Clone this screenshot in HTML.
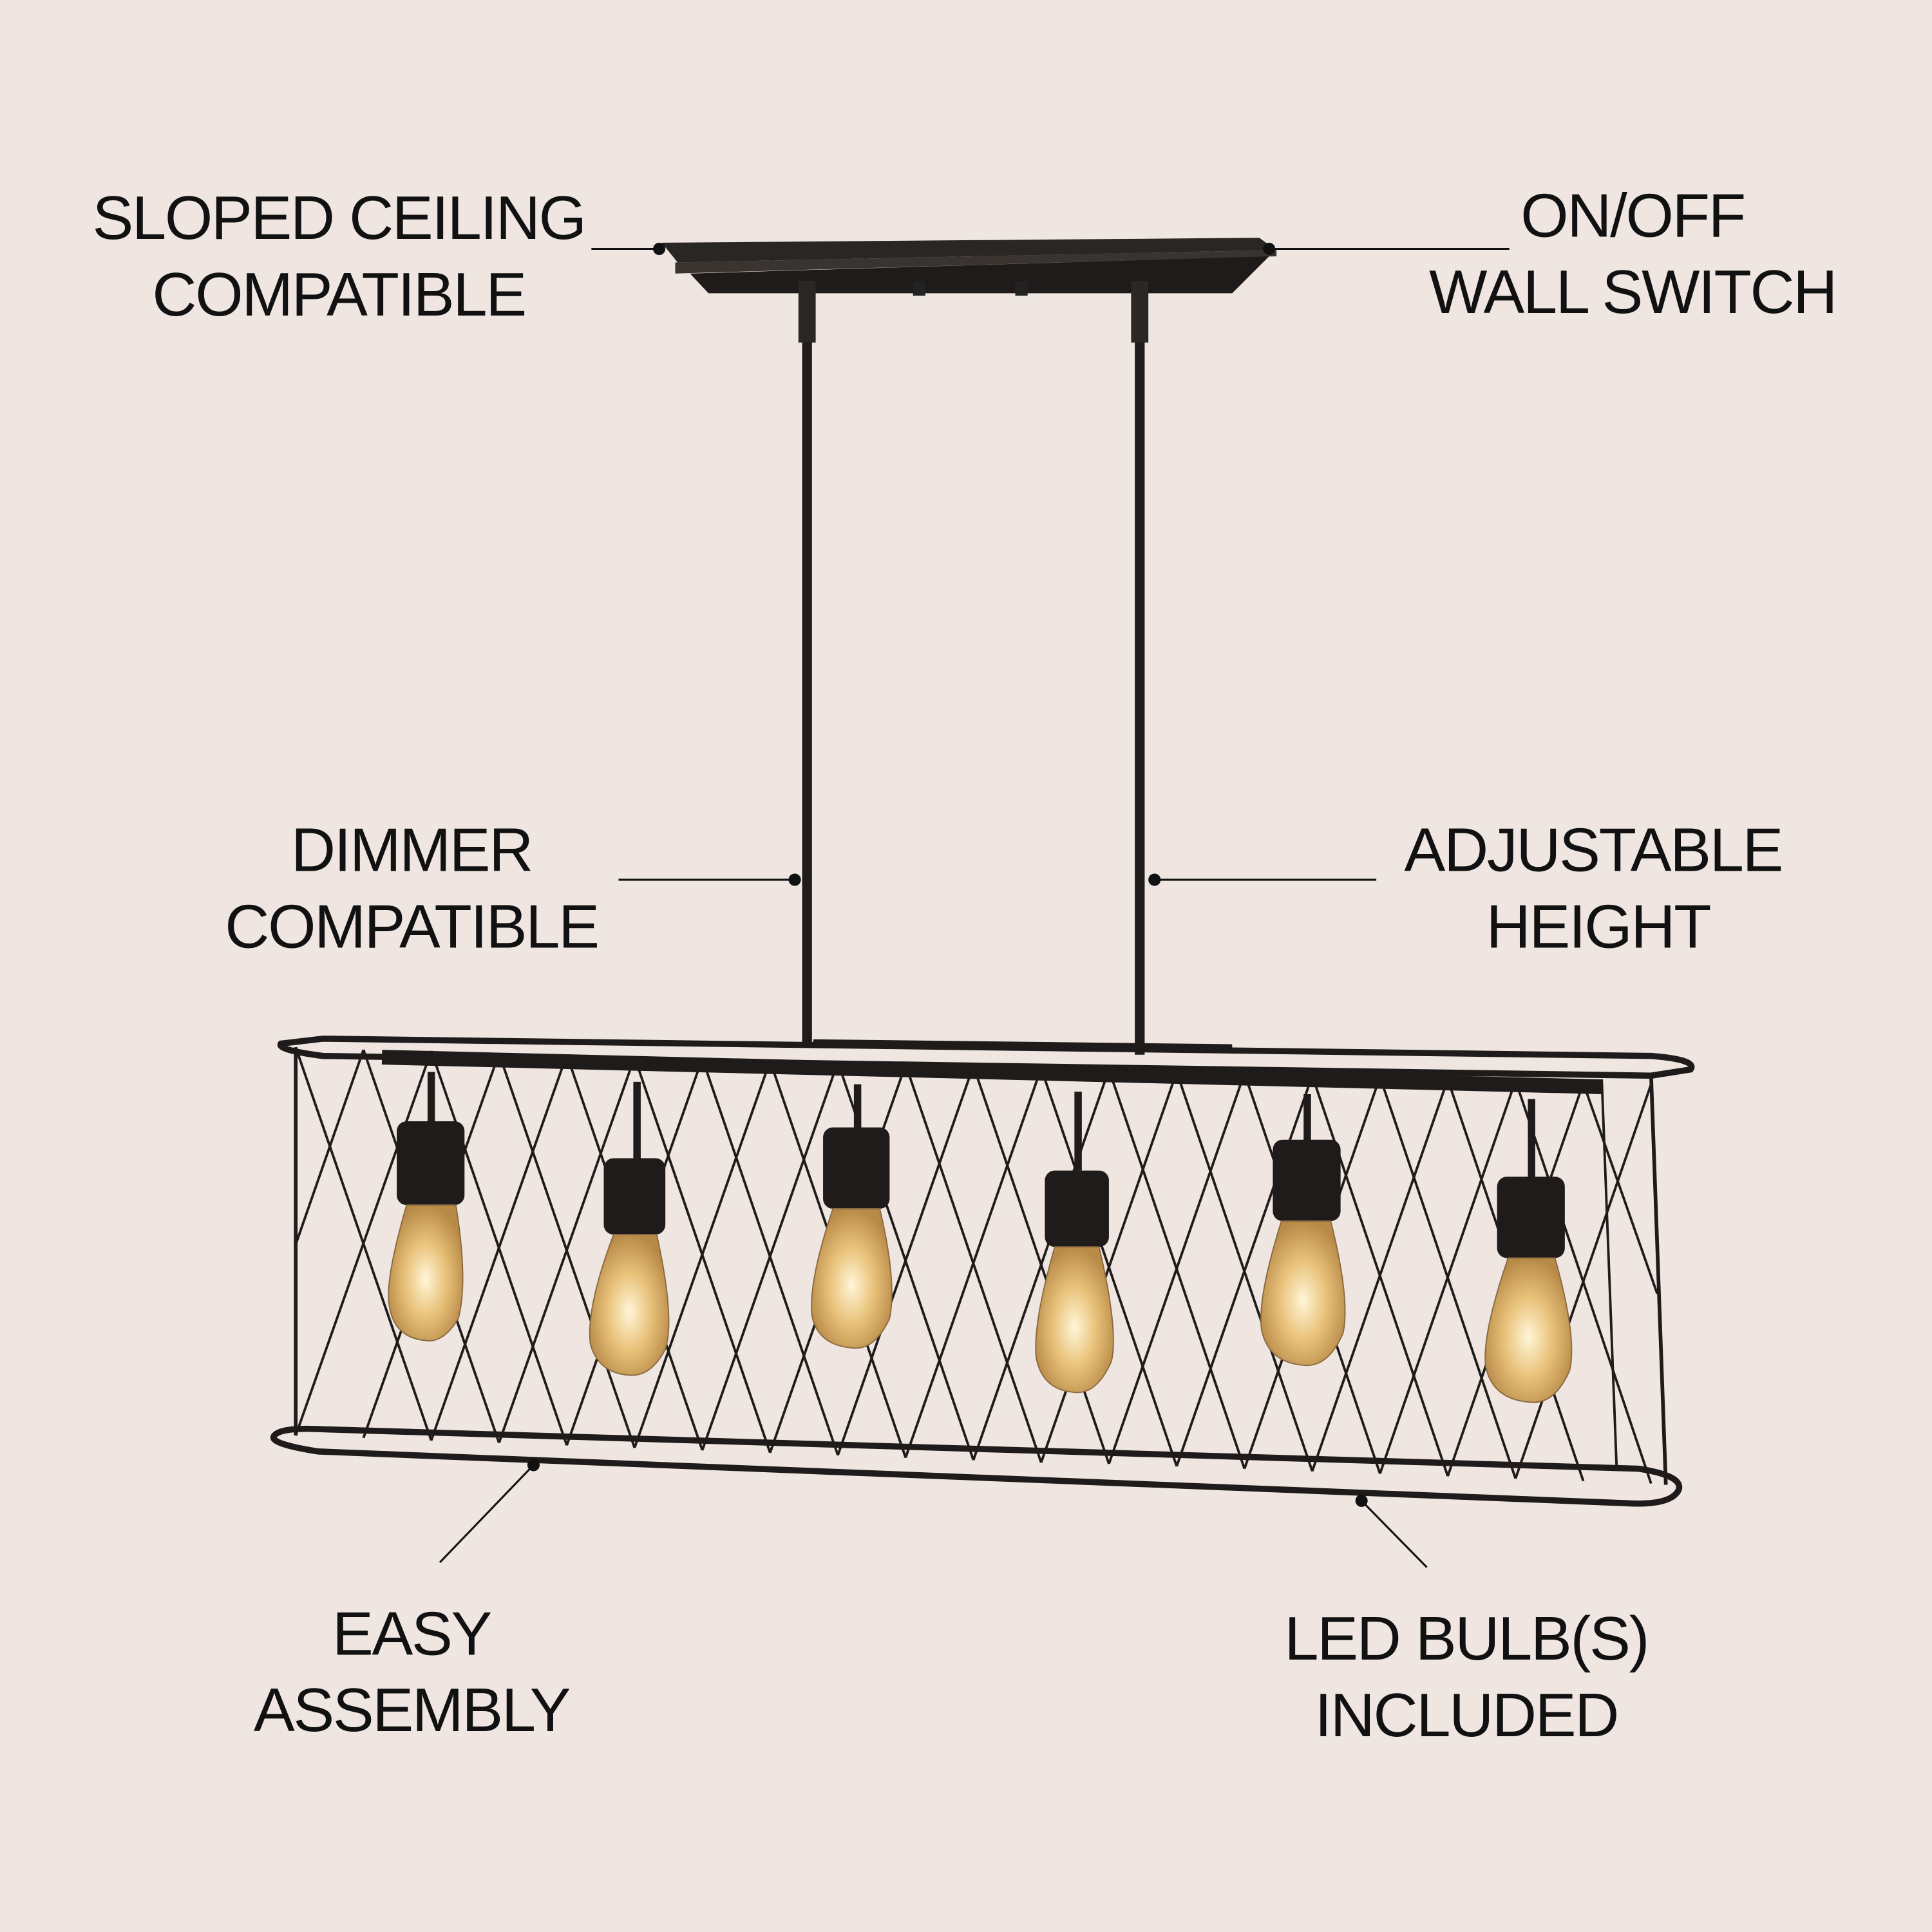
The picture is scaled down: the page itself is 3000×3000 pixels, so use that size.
<!DOCTYPE html>
<html><head><meta charset="utf-8"><style>
html,body{margin:0;padding:0;background:#efe6e1}
svg{display:block}
text{font-family:"Liberation Sans",sans-serif;font-size:50px;fill:#111;text-anchor:middle;letter-spacing:-1.2px}
</style></head><body>
<svg width="3000" height="3000" viewBox="0 0 1568 1568" xmlns="http://www.w3.org/2000/svg">
<defs>
<radialGradient id="b" cx="50%" cy="55%" r="55%"><stop offset="0" stop-color="#fff6d8"/><stop offset="0.5" stop-color="#e9c27a"/><stop offset="1" stop-color="#b88a48"/></radialGradient>
</defs>
<rect width="1568" height="1568" fill="#efe6e1"/>
<text x="275" y="194">SLOPED CEILING</text>
<text x="275" y="256">COMPATIBLE</text>
<text x="1325" y="192">ON/OFF</text>
<text x="1325" y="254">WALL SWITCH</text>
<text x="334" y="707">DIMMER</text>
<text x="334" y="769">COMPATIBLE</text>
<text x="1293" y="707">ADJUSTABLE</text>
<text x="1297" y="769">HEIGHT</text>
<text x="334" y="1343">EASY</text>
<text x="334" y="1405">ASSEMBLY</text>
<text x="1190" y="1347">LED BULB(S)</text>
<text x="1190" y="1409">INCLUDED</text>
<g stroke="#111" stroke-width="1.6" fill="none">
<line x1="480" y1="202" x2="535" y2="202"/>
<line x1="1032" y1="202" x2="1225" y2="202"/>
<line x1="502" y1="714" x2="645" y2="714"/>
<line x1="937" y1="714" x2="1117" y2="714"/>
<line x1="357" y1="1268" x2="433" y2="1189"/>
<line x1="1105" y1="1218" x2="1158" y2="1272"/>
</g>
<polygon points="537,197 1022,193 1036,203 550,213" fill="#2a2624"/>
<polygon points="548,213 1036,203 1036,208 548,222" fill="#3a3431"/>
<polygon points="560,222 1030,208 1000,238 575,238" fill="#1e1b1a"/>
<rect x="741" y="228" width="10" height="12" fill="#222"/>
<rect x="824" y="228" width="10" height="12" fill="#222"/>
<rect x="651" y="228" width="8" height="618" fill="#1f1c1b"/>
<rect x="921" y="228" width="8" height="628" fill="#1f1c1b"/>
<rect x="648" y="228" width="14" height="50" fill="#2b2725"/>
<rect x="918" y="228" width="14" height="50" fill="#2b2725"/>
<g stroke="#1e1b1a" fill="none">
<path d="M262,843 L1340,857 Q1378,860 1372,868 L1340,873 L262,857 Q224,852 228,847 Z" stroke-width="5"/>
<line x1="310" y1="858" x2="1300" y2="882" stroke-width="12"/>
<path d="M262,1160 L1330,1192 Q1368,1198 1362,1210 Q1355,1222 1320,1220 L258,1178 Q220,1172 222,1166 Q226,1158 262,1160 Z" stroke-width="5"/>
<line x1="240" y1="850" x2="240" y2="1165" stroke-width="3"/>
<line x1="1340" y1="872" x2="1352" y2="1205" stroke-width="3"/>
<line x1="1300" y1="876" x2="1312" y2="1190" stroke-width="2"/>
<line x1="660" y1="846" x2="1000" y2="850" stroke-width="5"/>
</g>
<g stroke="#1e1b1a" stroke-width="2" fill="none">
<line x1="240" y1="850" x2="350" y2="1169"/>
<line x1="295" y1="852" x2="405" y2="1171"/><line x1="295" y1="852" x2="240" y2="1010"/>
<line x1="350" y1="853" x2="460" y2="1173"/><line x1="350" y1="853" x2="240" y2="1165"/>
<line x1="405" y1="855" x2="515" y2="1175"/><line x1="405" y1="855" x2="295" y2="1167"/>
<line x1="460" y1="856" x2="570" y2="1177"/><line x1="460" y1="856" x2="350" y2="1169"/>
<line x1="515" y1="858" x2="625" y2="1179"/><line x1="515" y1="858" x2="405" y2="1171"/>
<line x1="570" y1="859" x2="680" y2="1181"/><line x1="570" y1="859" x2="460" y2="1173"/>
<line x1="625" y1="861" x2="735" y2="1183"/><line x1="625" y1="861" x2="515" y2="1175"/>
<line x1="680" y1="862" x2="790" y2="1185"/><line x1="680" y1="862" x2="570" y2="1177"/>
<line x1="735" y1="864" x2="845" y2="1187"/><line x1="735" y1="864" x2="625" y2="1179"/>
<line x1="790" y1="865" x2="900" y2="1188"/><line x1="790" y1="865" x2="680" y2="1181"/>
<line x1="845" y1="867" x2="955" y2="1190"/><line x1="845" y1="867" x2="735" y2="1183"/>
<line x1="900" y1="868" x2="1010" y2="1192"/><line x1="900" y1="868" x2="790" y2="1185"/>
<line x1="955" y1="870" x2="1065" y2="1194"/><line x1="955" y1="870" x2="845" y2="1187"/>
<line x1="1010" y1="871" x2="1120" y2="1196"/><line x1="1010" y1="871" x2="900" y2="1188"/>
<line x1="1065" y1="873" x2="1175" y2="1198"/><line x1="1065" y1="873" x2="955" y2="1190"/>
<line x1="1120" y1="874" x2="1230" y2="1200"/><line x1="1120" y1="874" x2="1010" y2="1192"/>
<line x1="1175" y1="876" x2="1285" y2="1202"/><line x1="1175" y1="876" x2="1065" y2="1194"/>
<line x1="1230" y1="877" x2="1340" y2="1204"/><line x1="1230" y1="877" x2="1120" y2="1196"/>
<line x1="1285" y1="879" x2="1345" y2="1050"/><line x1="1285" y1="879" x2="1175" y2="1198"/>
<line x1="1340" y1="880" x2="1230" y2="1200"/>
</g>
<g>
<rect x="347" y="870" width="6" height="45" fill="#1e1b1a"/>
<rect x="322" y="910" width="55" height="68" rx="8" fill="#1e1b1a"/>
<path d="M330,978 L370,978 Q380,1040 372,1070 Q360,1090 346,1088 Q320,1086 316,1060 Q312,1040 330,978 Z" fill="url(#b)" stroke="#8a6a40"/>
<rect x="514" y="878" width="6" height="62" fill="#1e1b1a"/>
<rect x="490" y="940" width="50" height="62" rx="8" fill="#1e1b1a"/>
<path d="M498,1002 L533,1002 Q548,1070 540,1095 Q528,1118 510,1116 Q485,1114 479,1090 Q476,1060 498,1002 Z" fill="url(#b)" stroke="#8a6a40"/>
<rect x="693" y="880" width="6" height="36" fill="#1e1b1a"/>
<rect x="668" y="915" width="54" height="66" rx="8" fill="#1e1b1a"/>
<path d="M676,981 L714,981 Q728,1040 722,1070 Q710,1096 692,1094 Q664,1092 659,1068 Q656,1040 676,981 Z" fill="url(#b)" stroke="#8a6a40"/>
<rect x="872" y="886" width="6" height="64" fill="#1e1b1a"/>
<rect x="848" y="950" width="52" height="62" rx="8" fill="#1e1b1a"/>
<path d="M856,1012 L892,1012 Q908,1080 902,1105 Q890,1132 872,1130 Q846,1128 841,1102 Q838,1075 856,1012 Z" fill="url(#b)" stroke="#8a6a40"/>
<rect x="1058" y="888" width="6" height="38" fill="#1e1b1a"/>
<rect x="1033" y="925" width="55" height="66" rx="8" fill="#1e1b1a"/>
<path d="M1040,991 L1080,991 Q1096,1055 1090,1082 Q1078,1110 1058,1108 Q1030,1106 1024,1080 Q1020,1055 1040,991 Z" fill="url(#b)" stroke="#8a6a40"/>
<rect x="1240" y="892" width="6" height="64" fill="#1e1b1a"/>
<rect x="1215" y="955" width="55" height="66" rx="8" fill="#1e1b1a"/>
<path d="M1224,1021 L1262,1021 Q1280,1085 1274,1112 Q1262,1140 1242,1138 Q1212,1136 1206,1110 Q1202,1085 1224,1021 Z" fill="url(#b)" stroke="#8a6a40"/>
</g>
<g fill="#111">
<circle cx="535" cy="202" r="5"/><circle cx="1030" cy="202" r="5"/>
<circle cx="645" cy="714" r="5"/><circle cx="937" cy="714" r="5"/>
<circle cx="433" cy="1189" r="5"/><circle cx="1105" cy="1218" r="5"/>
</g>
</svg>
</body></html>
